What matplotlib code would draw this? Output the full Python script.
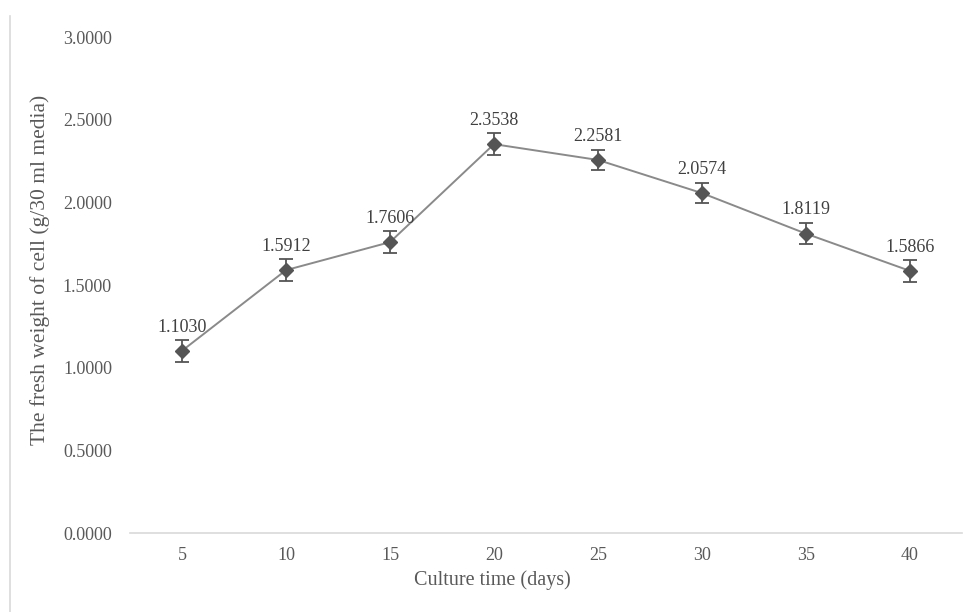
import matplotlib.pyplot as plt
from matplotlib.lines import Line2D

plt.rcParams['font.family'] = ['Liberation Serif', 'DejaVu Serif']

days = ['5', '10', '15', '20', '25', '30', '35', '40']
fresh_weight = [1.1030, 1.5912, 1.7606, 2.3538, 2.2581, 2.0574, 1.8119, 1.5866]
err = [0.068, 0.065, 0.065, 0.065, 0.062, 0.062, 0.065, 0.065]
y_ticks = [0.0, 0.5, 1.0, 1.5, 2.0, 2.5, 3.0]

W, H = 968, 612
fig = plt.figure(figsize=(W / 100, H / 100), dpi=100)
ax = fig.add_axes([130 / W, (H - 533) / H, 832 / W, (533 - 37.4) / H])

x = range(len(days))
ax.plot(x, fresh_weight, color='#8a8a8a', lw=1.4, zorder=2)
ax.errorbar(x, fresh_weight, yerr=err, fmt='D', color='#555555', ms=7,
            ecolor='#555555', elinewidth=1.3, capsize=5, capthick=1.3, zorder=3)

for i, v in enumerate(fresh_weight):
    ax.annotate(f'{v:.4f}', (i, v), xytext=(0, 11), textcoords='offset points',
                ha='center', va='bottom', fontsize=13, color='#404040')

ax.set_xlim(-0.5, len(days) - 0.5)
ax.set_ylim(0, 3.0)
ax.set_xticks(list(x))
ax.set_xticklabels(days)
ax.set_yticks(y_ticks)
ax.set_yticklabels([f'{t:.4f}' for t in y_ticks])
ax.tick_params(length=0, labelsize=13, labelcolor='#595959')
ax.tick_params(axis='x', pad=10)
ax.tick_params(axis='y', pad=13)
for s in ['top', 'right', 'left']:
    ax.spines[s].set_visible(False)
ax.spines['bottom'].set_color('#d9d9d9')
ax.spines['bottom'].set_linewidth(1.2)

fig.text(492 / W, (H - 580) / H, 'Culture time (days)', ha='center', va='center',
         fontsize=14.5, color='#595959')
fig.text(40 / W, (H - 270) / H, 'The fresh weight of cell (g/30 ml media)',
         ha='center', va='center', rotation=90, fontsize=15.5, color='#595959')

# left border of the chart frame
fig.add_artist(Line2D([9.5 / W, 9.5 / W], [0, (H - 16) / H], color='#d9d9d9', lw=1.2))

fig.savefig('out.png', dpi=100)
